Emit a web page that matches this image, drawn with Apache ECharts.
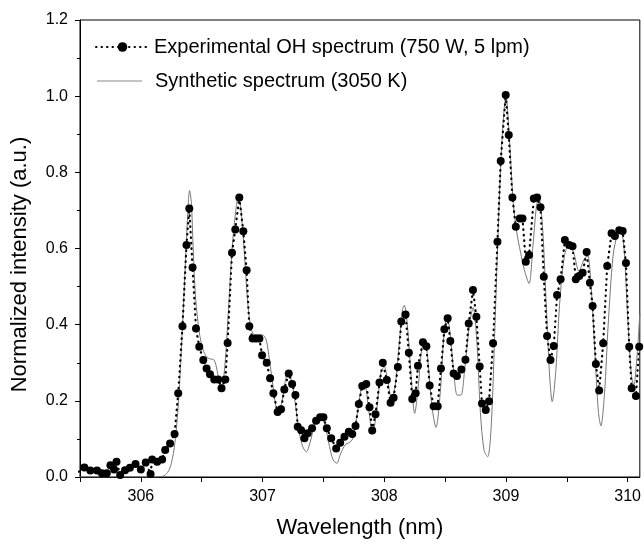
<!DOCTYPE html>
<html>
<head>
<meta charset="utf-8">
<script src="https://cdn.jsdelivr.net/npm/echarts@6/dist/echarts.min.js"></script>
<style>html,body{margin:0;padding:0;background:#fff}#c{width:644px;height:544px}</style>
</head>
<body>
<div id="c"></div>
<script>
// Experimental OH spectrum (750 W, 5 lpm)
const expX = [305.49,305.536,305.585,305.64,305.68,305.72,305.75,305.78,305.80,305.83,305.87,305.91,305.956,306.0,306.04,306.08,306.093,306.134,306.175,306.20,306.24,306.277,306.307,306.342,306.375,306.398,306.425,306.453,306.48,306.513,306.54,306.568,306.603,306.636,306.663,306.694,306.713,306.749,306.776,306.809,306.842,306.869,306.891,306.918,306.946,306.974,306.996,307.034,307.062,307.089,307.124,307.152,307.179,307.215,307.243,307.27,307.289,307.317,307.344,307.371,307.407,307.44,307.473,307.50,307.528,307.564,307.605,307.638,307.673,307.709,307.737,307.764,307.791,307.819,307.852,307.879,307.901,307.928,307.961,307.988,308.021,308.052,308.077,308.112,308.14,308.175,308.202,308.23,308.258,308.277,308.318,308.346,308.373,308.406,308.439,308.466,308.494,308.521,308.543,308.57,308.597,308.634,308.667,308.694,308.729,308.757,308.784,308.803,308.834,308.861,308.894,308.93,308.957,308.998,309.023,309.053,309.081,309.114,309.136,309.163,309.19,309.229,309.256,309.284,309.311,309.338,309.366,309.393,309.42,309.449,309.484,309.519,309.547,309.574,309.602,309.63,309.663,309.69,309.712,309.739,309.766,309.799,309.832,309.868,309.895,309.931,309.959,309.986,310.013,310.033,310.068,310.095];
const expY = [0.014,0.025,0.017,0.017,0.010,0.010,0.031,0.020,0.040,0.005,0.018,0.024,0.034,0.020,0.038,0.008,0.046,0.040,0.046,0.071,0.088,0.113,0.22,0.396,0.609,0.705,0.550,0.390,0.342,0.307,0.285,0.270,0.256,0.256,0.233,0.256,0.352,0.589,0.650,0.734,0.645,0.543,0.396,0.364,0.364,0.364,0.320,0.300,0.259,0.220,0.171,0.178,0.230,0.272,0.244,0.215,0.132,0.123,0.102,0.115,0.128,0.148,0.157,0.157,0.128,0.102,0.075,0.090,0.106,0.119,0.113,0.134,0.192,0.239,0.244,0.183,0.122,0.165,0.248,0.300,0.255,0.195,0.208,0.289,0.408,0.427,0.326,0.205,0.220,0.292,0.354,0.343,0.240,0.186,0.186,0.285,0.388,0.417,0.357,0.272,0.265,0.282,0.308,0.403,0.491,0.421,0.290,0.193,0.176,0.199,0.351,0.618,0.830,1.003,0.898,0.734,0.657,0.679,0.679,0.565,0.583,0.731,0.734,0.708,0.526,0.370,0.307,0.344,0.478,0.519,0.622,0.609,0.606,0.519,0.528,0.536,0.591,0.510,0.449,0.297,0.227,0.351,0.554,0.640,0.633,0.648,0.646,0.562,0.342,0.233,0.213,0.342];
// Synthetic spectrum (3050 K)
const synX = [305.50,306.10,306.18,306.22,306.25,306.28,306.31,306.34,306.37,306.39,306.40,306.415,306.43,306.45,306.48,306.51,306.54,306.57,306.60,306.62,306.645,306.665,306.69,306.72,306.75,306.78,306.80,306.82,306.85,306.88,306.91,306.94,307.00,307.03,307.06,307.09,307.12,307.15,307.18,307.21,307.24,307.27,307.30,307.33,307.36,307.39,307.43,307.47,307.51,307.55,307.58,307.61,307.64,307.68,307.71,307.74,307.78,307.81,307.84,307.87,307.905,307.94,307.97,308.00,308.03,308.06,308.09,308.12,308.15,308.165,308.19,308.22,308.25,308.28,308.31,308.335,308.36,308.39,308.425,308.46,308.49,308.515,308.54,308.57,308.60,308.63,308.66,308.70,308.73,308.76,308.79,308.82,308.85,308.88,308.91,308.94,308.97,309.00,309.03,309.06,309.09,309.12,309.15,309.19,309.22,309.25,309.27,309.30,309.33,309.36,309.38,309.41,309.44,309.48,309.52,309.56,309.60,309.64,309.67,309.70,309.73,309.76,309.78,309.81,309.84,309.88,309.92,309.94,309.97,310.00,310.03,310.05,310.08,310.10];
const synY = [0,0,0.002,0.012,0.035,0.09,0.20,0.38,0.59,0.72,0.752,0.72,0.60,0.47,0.38,0.335,0.315,0.31,0.308,0.29,0.25,0.24,0.29,0.44,0.60,0.70,0.735,0.71,0.59,0.45,0.385,0.373,0.373,0.36,0.30,0.23,0.18,0.185,0.24,0.278,0.25,0.19,0.12,0.08,0.066,0.09,0.14,0.162,0.14,0.08,0.045,0.036,0.06,0.085,0.09,0.10,0.17,0.23,0.24,0.18,0.115,0.18,0.27,0.29,0.25,0.205,0.24,0.34,0.44,0.451,0.40,0.27,0.167,0.24,0.34,0.355,0.30,0.19,0.13,0.22,0.37,0.425,0.38,0.28,0.215,0.215,0.28,0.40,0.445,0.36,0.17,0.07,0.053,0.14,0.40,0.68,0.90,1.0,0.88,0.72,0.64,0.59,0.545,0.508,0.60,0.71,0.735,0.66,0.46,0.26,0.198,0.28,0.45,0.58,0.613,0.585,0.54,0.57,0.583,0.50,0.33,0.17,0.134,0.22,0.40,0.58,0.645,0.653,0.60,0.42,0.27,0.24,0.33,0.43];
const seriesNames = ['Experimental OH spectrum (750 W, 5 lpm)', 'Synthetic spectrum (3050 K)'];
const xLabel = 'Wavelength (nm)';
const yLabel = 'Normalized intensity (a.u.)';

const expData = expX.map((x, i) => [x, expY[i]]);
const synData = synX.map((x, i) => [x, synY[i]]);
const FONT = '"Liberation Sans", Arial, sans-serif';

const chart = echarts.init(document.getElementById('c'), null, {renderer: 'canvas'});
chart.setOption({
  animation: false,
  backgroundColor: '#fff',
  grid: {left: 80, right: 4, top: 20, bottom: 67, show: true, borderColor: '#000', borderWidth: 1, backgroundColor: 'transparent'},
  legend: [
    {data: [seriesNames[0]], orient: 'vertical', left: 90, top: 32, itemWidth: 53, itemHeight: 12,
     textStyle: {fontFamily: FONT, fontSize: 20, color: '#000'}},
    {data: [{name: seriesNames[1], icon: 'rect'}], orient: 'vertical', left: 92, top: 66, itemWidth: 45, itemHeight: 1,
     itemStyle: {color: '#888'},
     textStyle: {fontFamily: FONT, fontSize: 20, color: '#000', padding: [0,0,0,8]}}
  ],
  xAxis: {
    type: 'value', min: 305.5, max: 310.1, interval: 0.5,
    name: xLabel, nameLocation: 'middle', nameGap: 40,
    nameTextStyle: {fontFamily: FONT, fontSize: 22, color: '#000'},
    axisLine: {lineStyle: {color: '#000', width: 1}},
    axisTick: {inside: false, length: 5, lineStyle: {color: '#000'}},
    axisLabel: {fontFamily: FONT, fontSize: 16, color: '#000', margin: 12, showMaxLabel: false,
      formatter: v => (Math.abs(v - Math.round(v)) < 1e-6 ? String(Math.round(v)) : '')},
    splitLine: {show: false}
  },
  yAxis: {
    type: 'value', min: 0, max: 1.2, interval: 0.2,
    name: yLabel, nameLocation: 'middle', nameGap: 49,
    nameTextStyle: {fontFamily: FONT, fontSize: 22, color: '#000', padding: [0, 32, 0, 0]},
    axisLine: {show: true, lineStyle: {color: '#000', width: 1}},
    axisTick: {inside: false, length: 5, lineStyle: {color: '#000'}},
    minorTick: {show: true, splitNumber: 2, length: 3, lineStyle: {color: '#000'}},
    axisLabel: {fontFamily: FONT, fontSize: 16, color: '#000', margin: 12, formatter: v => v.toFixed(1)},
    splitLine: {show: false}
  },
  series: [
    {
      name: seriesNames[0], type: 'line', data: expData,
      symbol: 'circle', symbolSize: 8, showAllSymbol: true,
      itemStyle: {color: '#000'},
      lineStyle: {color: '#000', width: 2.2, type: [0.5, 5], cap: 'round'},
      z: 3
    },
    {
      name: seriesNames[1], type: 'line', data: synData, smooth: 0.3,
      symbol: 'none', showSymbol: false,
      itemStyle: {color: '#777'},
      lineStyle: {color: '#777', width: 1},
      z: 2
    }
  ]
});
</script>
</body>
</html>
